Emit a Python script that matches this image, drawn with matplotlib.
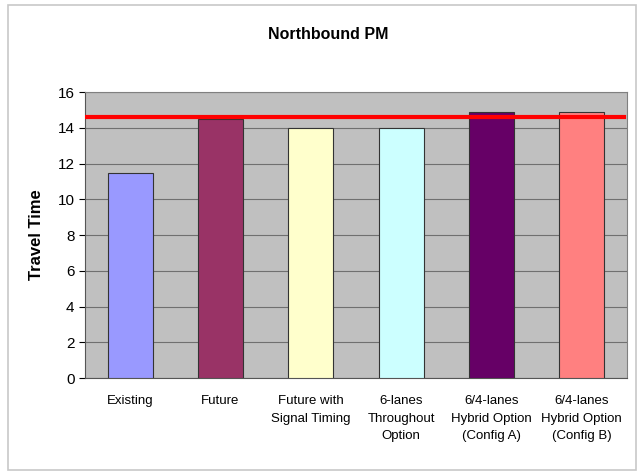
import matplotlib
matplotlib.use("Agg")
import matplotlib.pyplot as plt
from matplotlib.patches import Rectangle

# chart values
categories = ["Existing", "Future", "Future with\nSignal Timing",
              "6-lanes\nThroughout\nOption", "6/4-lanes\nHybrid Option\n(Config A)",
              "6/4-lanes\nHybrid Option\n(Config B)"]
travel_time = [11.5, 14.5, 14.0, 14.0, 14.9, 14.9]
bar_colors = ["#9999FF", "#993366", "#FFFFCC", "#CCFFFF", "#660066", "#FF8080"]
target_line = 14.6
y_ticks = [0, 2, 4, 6, 8, 10, 12, 14, 16]

plt.rcParams['font.family'] = ["Liberation Sans", "DejaVu Sans"]

fig = plt.figure(figsize=(6.39, 4.74), dpi=100)
ax = fig.add_axes([0.133, 0.2025, 0.848, 0.603])

# light border round the whole chart
fig.patches.append(Rectangle((0.012, 0.008), 0.983, 0.982, transform=fig.transFigure,
                             fill=False, edgecolor="#c8c8c8", linewidth=1.2))

ax.set_facecolor("#C0C0C0")
x = range(len(categories))
ax.bar(x, travel_time, width=0.5, color=bar_colors, edgecolor="#333333", linewidth=0.8, zorder=3)
ax.axhline(target_line, xmin=0.0, xmax=0.995, color="red", linewidth=3, zorder=4)

ax.set_ylim(0, 16)
ax.set_xlim(-0.5, len(categories) - 0.5)
ax.set_yticks(y_ticks)
ax.yaxis.grid(True, color="#707070", linewidth=0.8, zorder=0)
ax.set_axisbelow(True)

ax.set_xticks(list(x))
ax.set_xticklabels(categories, fontsize=9.5, linespacing=1.65, va="top")
ax.tick_params(axis="x", length=0, pad=12)
ax.tick_params(axis="y", labelsize=11, length=4, direction="out")

for s in ["top", "right"]:
    ax.spines[s].set_color("#808080")
ax.spines["left"].set_color("#555555")
ax.spines["bottom"].set_color("#555555")

ax.set_ylabel("Travel Time", fontsize=12, fontweight="bold", labelpad=10)
fig.text(0.513, 0.928, "Northbound PM", ha="center", va="center",
         fontsize=11.5, fontweight="bold")

fig.savefig("out.png", dpi=100)
